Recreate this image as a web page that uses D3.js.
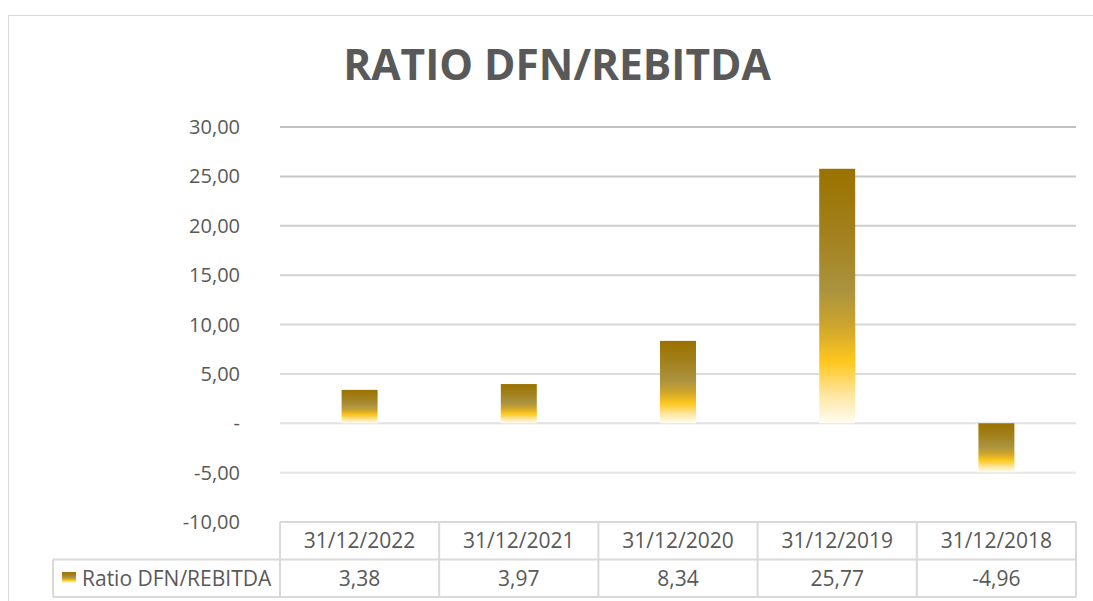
<!DOCTYPE html>
<html>
<head>
<meta charset="utf-8">
<script src="https://cdn.jsdelivr.net/npm/d3@7"></script>
<style>
  body { margin: 0; background: #fff; }
  svg { display: block; font-family: "Open Sans", sans-serif; }
</style>
</head>
<body>
<div id="chart"></div>
<script>
// data
const categories = ['31/12/2022', '31/12/2021', '31/12/2020', '31/12/2019', '31/12/2018'];
const values = [3.38, 3.97, 8.34, 25.77, -4.96];
const seriesName = 'Ratio DFN/REBITDA';
const yTicks = [-10, -5, 0, 5, 10, 15, 20, 25, 30];

const width = 1093, height = 601;
const margin = { left: 280, right: 17, top: 127, bottom: 79 };

const svg = d3.select('#chart')
    .append('svg')
    .attr('width', width)
    .attr('height', height);

// gradient for the bars (same for each bar, top to bottom)
const defs = svg.append('defs');
const grad = defs.append('linearGradient')
    .attr('id', 'goldGrad')
    .attr('x1', 0).attr('y1', 0).attr('x2', 0).attr('y2', 1);
[
    [0, '#9a7200'],
    [0.25, '#a2801c'],
    [0.48, '#ab933f'],
    [0.62, '#cfa52c'],
    [0.76, '#ffc81e'],
    [0.88, '#ffe49a'],
    [1, '#fffcf2']
].forEach(s => grad.append('stop').attr('offset', s[0]).attr('stop-color', s[1]));

// chart border (runs off the right / bottom)
svg.append('rect')
    .attr('x', 8.5).attr('y', 15.5)
    .attr('width', 1200).attr('height', 700)
    .attr('fill', 'none')
    .attr('stroke', '#d9d9d9')
    .attr('stroke-width', 1);

// title
svg.append('text')
    .attr('x', 557).attr('y', 80)
    .attr('text-anchor', 'middle')
    .attr('font-size', 42.5)
    .attr('font-weight', 'bold')
    .attr('fill', '#595959')
    .text('RATIO DFN/REBITDA');

const x = d3.scaleBand()
    .domain(categories)
    .range([margin.left, width - margin.right])
    .paddingInner(0.774)
    .paddingOuter(0.387);

const y = d3.scaleLinear()
    .domain([-10, 30])
    .range([height - margin.bottom, margin.top]);

// gridlines (fade lighter toward the bottom like the reference)
const gridColor = d3.scaleLinear().domain([30, -10]).range(['#c2c2c2', '#ececec']);
svg.append('g').selectAll('line')
    .data(yTicks.filter(t => t > -10))
    .enter()
    .append('line')
    .attr('x1', margin.left).attr('x2', width - margin.right)
    .attr('y1', d => y(d)).attr('y2', d => y(d))
    .attr('stroke', d => gridColor(d))
    .attr('stroke-width', 2);

// numbers: comma decimal, plain hyphen for minus
const num = v => d3.format('.2f')(v).replace('.', ',').replace('\u2212', '-');
const fmt = v => v === 0 ? '-' : num(v);

svg.append('g').selectAll('text')
    .data(yTicks)
    .enter()
    .append('text')
    .attr('x', 240)
    .attr('y', d => y(d))
    .attr('dy', '0.35em')
    .attr('text-anchor', 'end')
    .attr('font-size', 20)
    .attr('fill', '#595959')
    .text(fmt);

// bars
svg.append('g').selectAll('rect')
    .data(values)
    .enter()
    .append('rect')
    .attr('x', (d, i) => x(categories[i]))
    .attr('width', x.bandwidth())
    .attr('y', d => y(Math.max(0, d)))
    .attr('height', d => Math.abs(y(d) - y(0)))
    .attr('fill', 'url(#goldGrad)');

// data table
const rowTop = y(-10), rowMid = 559.5, rowBot = 597;
const legLeft = 53;
const tbl = svg.append('g')
    .attr('stroke', '#d9d9d9')
    .attr('stroke-width', 2)
    .attr('fill', 'none');
const colEdges = categories.map(c => x(c) - x.step() * x.paddingInner() / 2);
colEdges.push(width - margin.right);

tbl.append('line').attr('x1', margin.left).attr('x2', width - margin.right).attr('y1', rowTop).attr('y2', rowTop);
tbl.append('line').attr('x1', legLeft).attr('x2', width - margin.right).attr('y1', rowMid).attr('y2', rowMid);
tbl.append('line').attr('x1', legLeft).attr('x2', width - margin.right).attr('y1', rowBot).attr('y2', rowBot);
tbl.append('line').attr('x1', legLeft).attr('x2', legLeft).attr('y1', rowMid).attr('y2', rowBot);
tbl.selectAll('.vline')
    .data(colEdges)
    .enter()
    .append('line')
    .attr('class', 'vline')
    .attr('x1', d => d).attr('x2', d => d)
    .attr('y1', rowTop).attr('y2', rowBot);

svg.append('g').selectAll('text')
    .data(categories)
    .enter()
    .append('text')
    .attr('x', d => x(d) + x.bandwidth() / 2)
    .attr('y', (rowTop + rowMid) / 2)
    .attr('dy', '0.35em')
    .attr('text-anchor', 'middle')
    .attr('font-size', 21)
    .attr('fill', '#595959')
    .text(d => d);

svg.append('g').selectAll('text')
    .data(values)
    .enter()
    .append('text')
    .attr('x', (d, i) => x(categories[i]) + x.bandwidth() / 2)
    .attr('y', (rowMid + rowBot) / 2)
    .attr('dy', '0.35em')
    .attr('text-anchor', 'middle')
    .attr('font-size', 21)
    .attr('fill', '#595959')
    .text(num);

// legend key + series name
svg.append('rect')
    .attr('x', 62).attr('y', 572)
    .attr('width', 14).attr('height', 11)
    .attr('fill', 'url(#goldGrad)');
svg.append('text')
    .attr('x', 82)
    .attr('y', (rowMid + rowBot) / 2)
    .attr('dy', '0.35em')
    .attr('font-size', 21)
    .attr('fill', '#595959')
    .text(seriesName);
</script>
</body>
</html>
